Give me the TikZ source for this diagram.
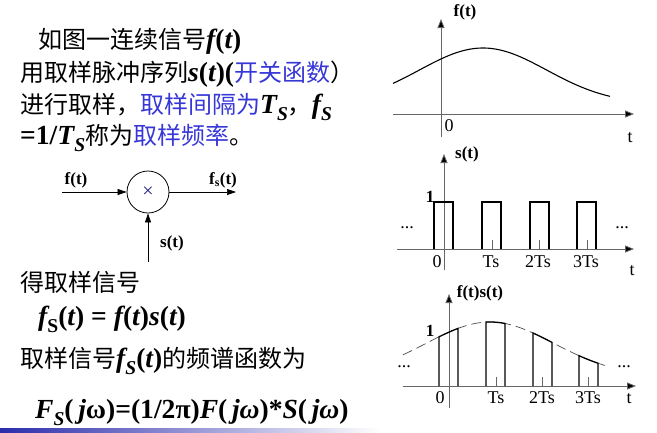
\documentclass[tikz,border=0pt]{standalone}
\usepackage{fontspec}
\setmainfont{Liberation Serif}
\newfontfamily\cjkf{Noto Sans CJK SC}
\newfontfamily\latf[Scale=1.15]{Liberation Serif}
\newcommand{\zh}[1]{{\cjkf #1}}
\newcommand{\bi}[1]{{\latf\bfseries\itshape #1}}
\newcommand{\bb}[1]{{\latf\bfseries #1}}
\newcommand{\sub}[1]{\raisebox{-0.3em}{\fontsize{17}{17}\selectfont #1}}
\usetikzlibrary{arrows.meta}
\definecolor{kblue}{RGB}{55,55,215}
\begin{document}
\begin{tikzpicture}[x=1pt,y=-1pt,
  txt/.style={anchor=base west,inner sep=0pt,font=\fontsize{24}{26}\selectfont},
  lbl/.style={inner sep=0pt,font=\fontsize{18}{20}\selectfont},
  blbl/.style={inner sep=0pt,font=\fontsize{17}{19}\selectfont\bfseries},
  axis/.style={draw=black!60,line width=0.8pt},
  axarr/.style={axis,-{Triangle[length=9pt,width=7pt,fill=black]}},
  pulse/.style={draw,line width=1.3pt},
  sig/.style={-{Triangle[length=9pt,width=6pt]},line width=0.7pt}]
\useasboundingbox (0,0) rectangle (657,432);
% text
\node[txt] (t1) at (38,48) {\zh{如图一连续信号}\bi{f}\bb{(}\bi{t}\bb{)}};
\node[txt] (t2) at (20,81) {\zh{用取样脉冲序列}\bi{s}\bb{(}\bi{t}\bb{)(}\textcolor{kblue}{\zh{开关函数}}\zh{）}};
\node[txt] (t3) at (20,113) {\zh{进行取样，}\textcolor{kblue}{\zh{取样间隔为}}\bi{T}\sub{\bi{S}}\zh{，}\bi{f}\sub{\bi{S}}};
\node[txt] (t4) at (20,144) {\bb{=1/}\bi{T}\sub{\bi{S}}\zh{称为}\textcolor{kblue}{\zh{取样频率}}\zh{。}};
\node[txt] (t5) at (20,291) {\zh{得取样信号}};
\node[txt] (t6) at (38,325) {\bi{f}\sub{\bb{S}}\bb{(}\bi{t}\bb{) = }\bi{f}\bb{(}\bi{t}\bb{)}\bi{s}\bb{(}\bi{t}\bb{)}};
\node[txt] (t7) at (20,367) {\zh{取样信号}\bi{f}\sub{\bi{S}}\bb{(}\bi{t}\bb{)}\zh{的频谱函数为}};
\node[txt] (t8) at (35,418) {\bi{F}\sub{\bi{S}}\bb{(}\bi{\,j}\bb{ω)=(1/2π)}\bi{F}\bb{(}\bi{\,jω}\bb{)*}\bi{S}\bb{(}\bi{\,jω}\bb{)}};
\shade[left color=kblue!80!black,right color=white] (0,428) rectangle (380,432);
% block diagram
\node[circle,draw,line width=0.8pt,minimum size=42pt,inner sep=0pt,font=\fontsize{20}{20}\selectfont] (m) at (148,192) {\textcolor{kblue!60!black}{×}};
\coordinate (fin) at (62,192);
\coordinate (fout) at (236,192);
\coordinate (sin) at (148,262);
\draw[sig] (fin) -- (m.west);
\draw[sig] (m.east) -- (fout);
\draw[sig] (sin) -- (m.south);
\node[blbl] (lf) at (76,180) {f(t)};
\node[blbl] (lfs) at (223,180) {f\textsubscript{s}(t)};
\node[blbl] (ls) at (172,243) {s(t)};
% plot 1
\coordinate (a1l) at (393,114); \coordinate (a1r) at (634,114);
\coordinate (v1b) at (441,137); \coordinate (v1t) at (441,19);
\draw[axarr] (a1l) -- (a1r);
\draw[axarr] (v1b) -- (v1t);
\draw[line width=1.1pt] plot[domain=393:610,samples=60,smooth] (\x,{114-10-56*exp(-((\x-483)/90)^2)});
\node[blbl] (p1y) at (465,12) {f(t)};
\node[lbl] (p10) at (449,126) {0};
\node[lbl] (p1t) at (630,138) {t};
% plot 2
\coordinate (a2l) at (397,249); \coordinate (a2r) at (634,249);
\coordinate (v2b) at (444,270); \coordinate (v2t) at (444,154);
\draw[axarr] (a2l) -- (a2r);
\draw[axarr] (v2b) -- (v2t);
\foreach \a in {434,482,530,577}{
  \draw[pulse] (\a,249) -- (\a,202) -- (\a+19,202) -- (\a+19,249);}
\foreach \a in {492,539,587}{\draw[black!60,line width=0.8pt] (\a,249) -- (\a,240);}
\node[blbl] (p2y) at (467,154) {s(t)};
\node[blbl] (p21) at (430,197) {1};
\node[lbl] (p2d1) at (407,228) {...};
\node[lbl] (p2d2) at (622,228) {...};
\node[lbl] (p20) at (437,262) {0};
\node[lbl] (p2a) at (491,262) {Ts};
\node[lbl] (p2b) at (538,262) {2Ts};
\node[lbl] (p2c) at (586,262) {3Ts};
\node[lbl] (p2t) at (632,271) {t};
% plot 3
\coordinate (a3l) at (403,386); \coordinate (a3r) at (636,386);
\coordinate (v3b) at (449,408); \coordinate (v3t) at (449,294);
\draw[axarr] (a3l) -- (a3r);
\draw[axarr] (v3b) -- (v3t);
\draw[dashed,dash pattern=on 10pt off 5pt,black!70,line width=0.7pt] plot[domain=403:605,samples=60,smooth] (\x,{386-10-54*exp(-((\x-490)/90)^2)});
\foreach \a in {439,486,533,579}{
  \draw[pulse] (\a,386) -- plot[domain=\a:\a+19,samples=6] (\x,{386-10-54*exp(-((\x-490)/90)^2)}) -- (\a+19,386);}
\foreach \a in {496,542,588}{\draw[black!60,line width=0.8pt] (\a,386) -- (\a,377);}
\node[blbl] (p3y) at (480,293) {f(t)s(t)};
\node[blbl] (p31) at (430,331) {1};
\node[lbl] (p3d1) at (404,367) {...};
\node[lbl] (p3d2) at (624,367) {...};
\node[lbl] (p30) at (440,398) {0};
\node[lbl] (p3a) at (496,398) {Ts};
\node[lbl] (p3b) at (542,398) {2Ts};
\node[lbl] (p3c) at (588,398) {3Ts};
\node[lbl] (p3t) at (629,399) {t};
\end{tikzpicture}
\end{document}
